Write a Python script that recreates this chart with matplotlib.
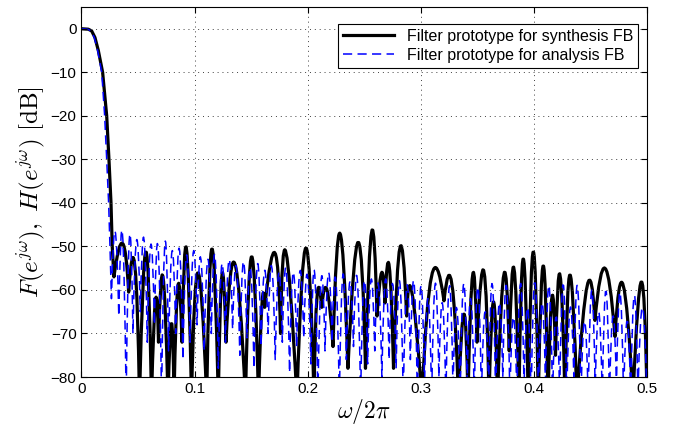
import matplotlib
matplotlib.use("Agg")
import matplotlib.pyplot as plt
from matplotlib.path import Path
from matplotlib.patches import PathPatch
from matplotlib.lines import Line2D

plt.rcParams['font.family'] = ['Liberation Sans', 'DejaVu Sans']
plt.rcParams['mathtext.fontset'] = 'cm'

# synthesis prototype (black): main lobe, then lobes given by nulls/peaks
syn_main_f = [0, 0.0060, 0.0075, 0.0090, 0.0119, 0.0149, 0.0187, 0.0223, 0.0243, 0.0261, 0.0272]
syn_main_db = [0, -0.1, -0.3, -0.5, -2, -5, -10, -20, -30, -40, -50]
syn_null_f = [0.0287, 0.0417, 0.0513, 0.0619, 0.0681, 0.0765, 0.0818, 0.0889, 0.0973, 0.1107,
              0.1210, 0.1278, 0.1450, 0.1565, 0.1620, 0.1760, 0.1905, 0.2056, 0.2124, 0.2224,
              0.2356, 0.2511, 0.2613, 0.2683, 0.2759, 0.2875, 0.3011, 0.3205, 0.3333, 0.3417,
              0.3497, 0.3603, 0.3678, 0.3782, 0.3868, 0.3950, 0.4039, 0.4125, 0.4191, 0.4275,
              0.4381, 0.4540, 0.4717, 0.4876, 0.5000]
syn_null_db = [-57, -60.5, -85, -85, -72, -85, -85, -72, -85, -85,
               -85, -72, -85, -85, -64, -70, -85, -85, -64, -73,
               -78, -78, -66, -63, -78, -66, -85, -62.5, -85, -85,
               -72, -85, -85, -74, -85, -85, -85, -85, -75, -85,
               -85, -67, -70.7, -85, -85]
syn_peak_f = [0.0364, 0.0473, 0.0570, 0.0654, 0.0721, 0.0796, 0.0853, 0.0928, 0.1030, 0.1154,
              0.1242, 0.1357, 0.1505, 0.1596, 0.1711, 0.1808, 0.1985, 0.2082, 0.2171, 0.2286,
              0.2447, 0.2566, 0.2654, 0.2721, 0.2816, 0.2922, 0.3096, 0.3276, 0.3382, 0.3459,
              0.3559, 0.3643, 0.3736, 0.3824, 0.3906, 0.3995, 0.4083, 0.4160, 0.4231, 0.4319,
              0.4472, 0.4629, 0.4790, 0.4951]
syn_peak_db = [-49.3, -54.6, -51.2, -62.3, -57, -67.5, -59, -50.4, -56, -50.5,
               -56.5, -54, -52.3, -63, -51.5, -51.3, -50.3, -61.5, -60, -47,
               -49, -46.5, -56, -54.5, -50.2, -60.5, -56.7, -58.7, -65.5, -56.4,
               -55.8, -62.7, -56.2, -55, -52.8, -51.2, -54.4, -61.5, -56.5, -56.5,
               -58.9, -55, -58.9, -58.1]

# analysis prototype (blue dashed)
ana_main_f = [0, 0.0055, 0.0070, 0.0085, 0.0113, 0.0143, 0.0179, 0.0205, 0.0223, 0.0240, 0.0252]
ana_main_db = [0, -0.1, -0.3, -0.5, -2, -5, -10, -20, -30, -40, -50]
ana_null_f = [0.0265, 0.0330, 0.0395, 0.0455, 0.0520, 0.0582, 0.0645, 0.0708, 0.0770, 0.0833,
              0.0897, 0.0960, 0.1022, 0.1085, 0.1148, 0.1210, 0.1273, 0.1336, 0.1400, 0.1462,
              0.1525, 0.1588, 0.1650, 0.1713, 0.1776, 0.1840, 0.1902, 0.1965, 0.2028, 0.2090,
              0.2153, 0.2216, 0.2280, 0.2342, 0.2405, 0.2468, 0.2530, 0.2593, 0.2656, 0.2720,
              0.2782, 0.2845, 0.2908, 0.2970, 0.3033, 0.3096, 0.3160, 0.3222, 0.3285, 0.3348,
              0.3410, 0.3473, 0.3536, 0.3600, 0.3662, 0.3725, 0.3788, 0.3850, 0.3913, 0.3976,
              0.4040, 0.4102, 0.4165, 0.4228, 0.4290, 0.4353, 0.4416, 0.4480, 0.4542, 0.4605,
              0.4668, 0.4730, 0.4793, 0.4856, 0.4920, 0.5000]
ana_null_db = [-62, -66, -85, -70, -65, -72, -68, -85, -74, -70,
               -76, -72, -68, -74, -70, -78, -72, -69, -75, -71,
               -78, -73, -70, -76, -72, -79, -73, -71, -77, -85,
               -74, -72, -85, -76, -73, -85, -77, -74, -80, -76,
               -78, -85, -76, -85, -82, -85, -80, -85, -83, -85,
               -81, -85, -85, -83, -85, -80, -85, -85, -82, -85,
               -85, -81, -85, -84, -85, -80, -85, -85, -83, -85,
               -85, -82, -85, -85, -84, -85]
ana_peak_db = [-46.5, -47, -47.5, -48.5, -48, -49.5, -50, -49, -51, -50.5,
               -52, -51, -52.5, -53, -52, -54, -53, -54.5, -53.5, -55,
               -54, -55.5, -54.5, -56, -55, -56, -55.5, -56.5, -55.5, -57,
               -56, -57.5, -56.5, -58, -57, -58, -57.5, -58.5, -57.5, -58.5,
               -58, -59, -58, -59, -62, -58.5, -63, -59, -64, -58.5,
               -62, -59, -65, -58.5, -63, -59, -66, -58.5, -64, -58,
               -63, -59, -66, -58.5, -64, -59, -67, -60, -65, -60,
               -66, -60.5, -67, -61, -64]


def lobe_path(main_f, main_db, null_f, null_db, peak_db, peak_f=None):
    verts = list(zip(main_f, main_db)) + [(null_f[0], null_db[0])]
    codes = [Path.MOVETO] + [Path.LINETO] * len(main_f)
    for i in range(len(peak_db)):
        x0, y0 = null_f[i], null_db[i]
        x2, y2 = null_f[i + 1], null_db[i + 1]
        xp = (x0 + x2) / 2 if peak_f is None else peak_f[i]
        # control point so the arch passes through the read peak
        verts += [((4 * xp - x0 - x2) / 2, (4 * peak_db[i] - y0 - y2) / 2), (x2, y2)]
        codes += [Path.CURVE3, Path.CURVE3]
    return Path(verts, codes)


fig = plt.figure(figsize=(6.75, 4.34), dpi=100)
ax = fig.add_axes([0.1207, 0.1313, 0.8378, 0.8526])

ax.add_patch(PathPatch(lobe_path(syn_main_f, syn_main_db, syn_null_f, syn_null_db, syn_peak_db, syn_peak_f),
                       fill=False, edgecolor='k', lw=2.3, joinstyle='round', capstyle='round'))
ax.add_patch(PathPatch(lobe_path(ana_main_f, ana_main_db, ana_null_f, ana_null_db, ana_peak_db),
                       fill=False, edgecolor='#0000ff', lw=1.1, ls=(0, (6, 3.5)), joinstyle='round'))

ax.set_xlim(0, 0.5)
ax.set_ylim(-80, 5)
ax.set_xticks([0, 0.1, 0.2, 0.3, 0.4, 0.5])
ax.set_xticklabels(['0', '0.1', '0.2', '0.3', '0.4', '0.5'])
ax.set_yticks(range(-80, 1, 10))
ax.set_yticklabels(['\u221280', '\u221270', '\u221260', '\u221250', '\u221240', '\u221230', '\u221220', '\u221210', '0'])
ax.tick_params(direction='in', top=True, right=True, labelsize=11, length=4, width=0.8)
ax.grid(True, color='0.25', linestyle=(0, (1, 4)), linewidth=0.7)
for s in ax.spines.values():
    s.set_linewidth(0.8)

ax.set_xlabel(r'$\omega/2\pi$', fontsize=17, labelpad=1)
ax.set_ylabel(r'$F(e^{j\omega}),\ H(e^{j\omega})\ [\mathrm{dB}]$', fontsize=18, labelpad=3)

handles = [Line2D([], [], color='k', lw=2.3),
           Line2D([], [], color='#0000ff', lw=1.1, ls=(0, (6, 3.5)))]
leg = ax.legend(handles, ['Filter prototype for synthesis FB', 'Filter prototype for analysis FB'],
                loc='upper right', bbox_to_anchor=(0.984, 0.954), borderaxespad=0,
                fontsize=11.5, fancybox=False, framealpha=1, edgecolor='k',
                handlelength=3.2, labelspacing=0.25, borderpad=0.3)
leg.get_frame().set_linewidth(0.8)

fig.savefig('out.png', dpi=100)
